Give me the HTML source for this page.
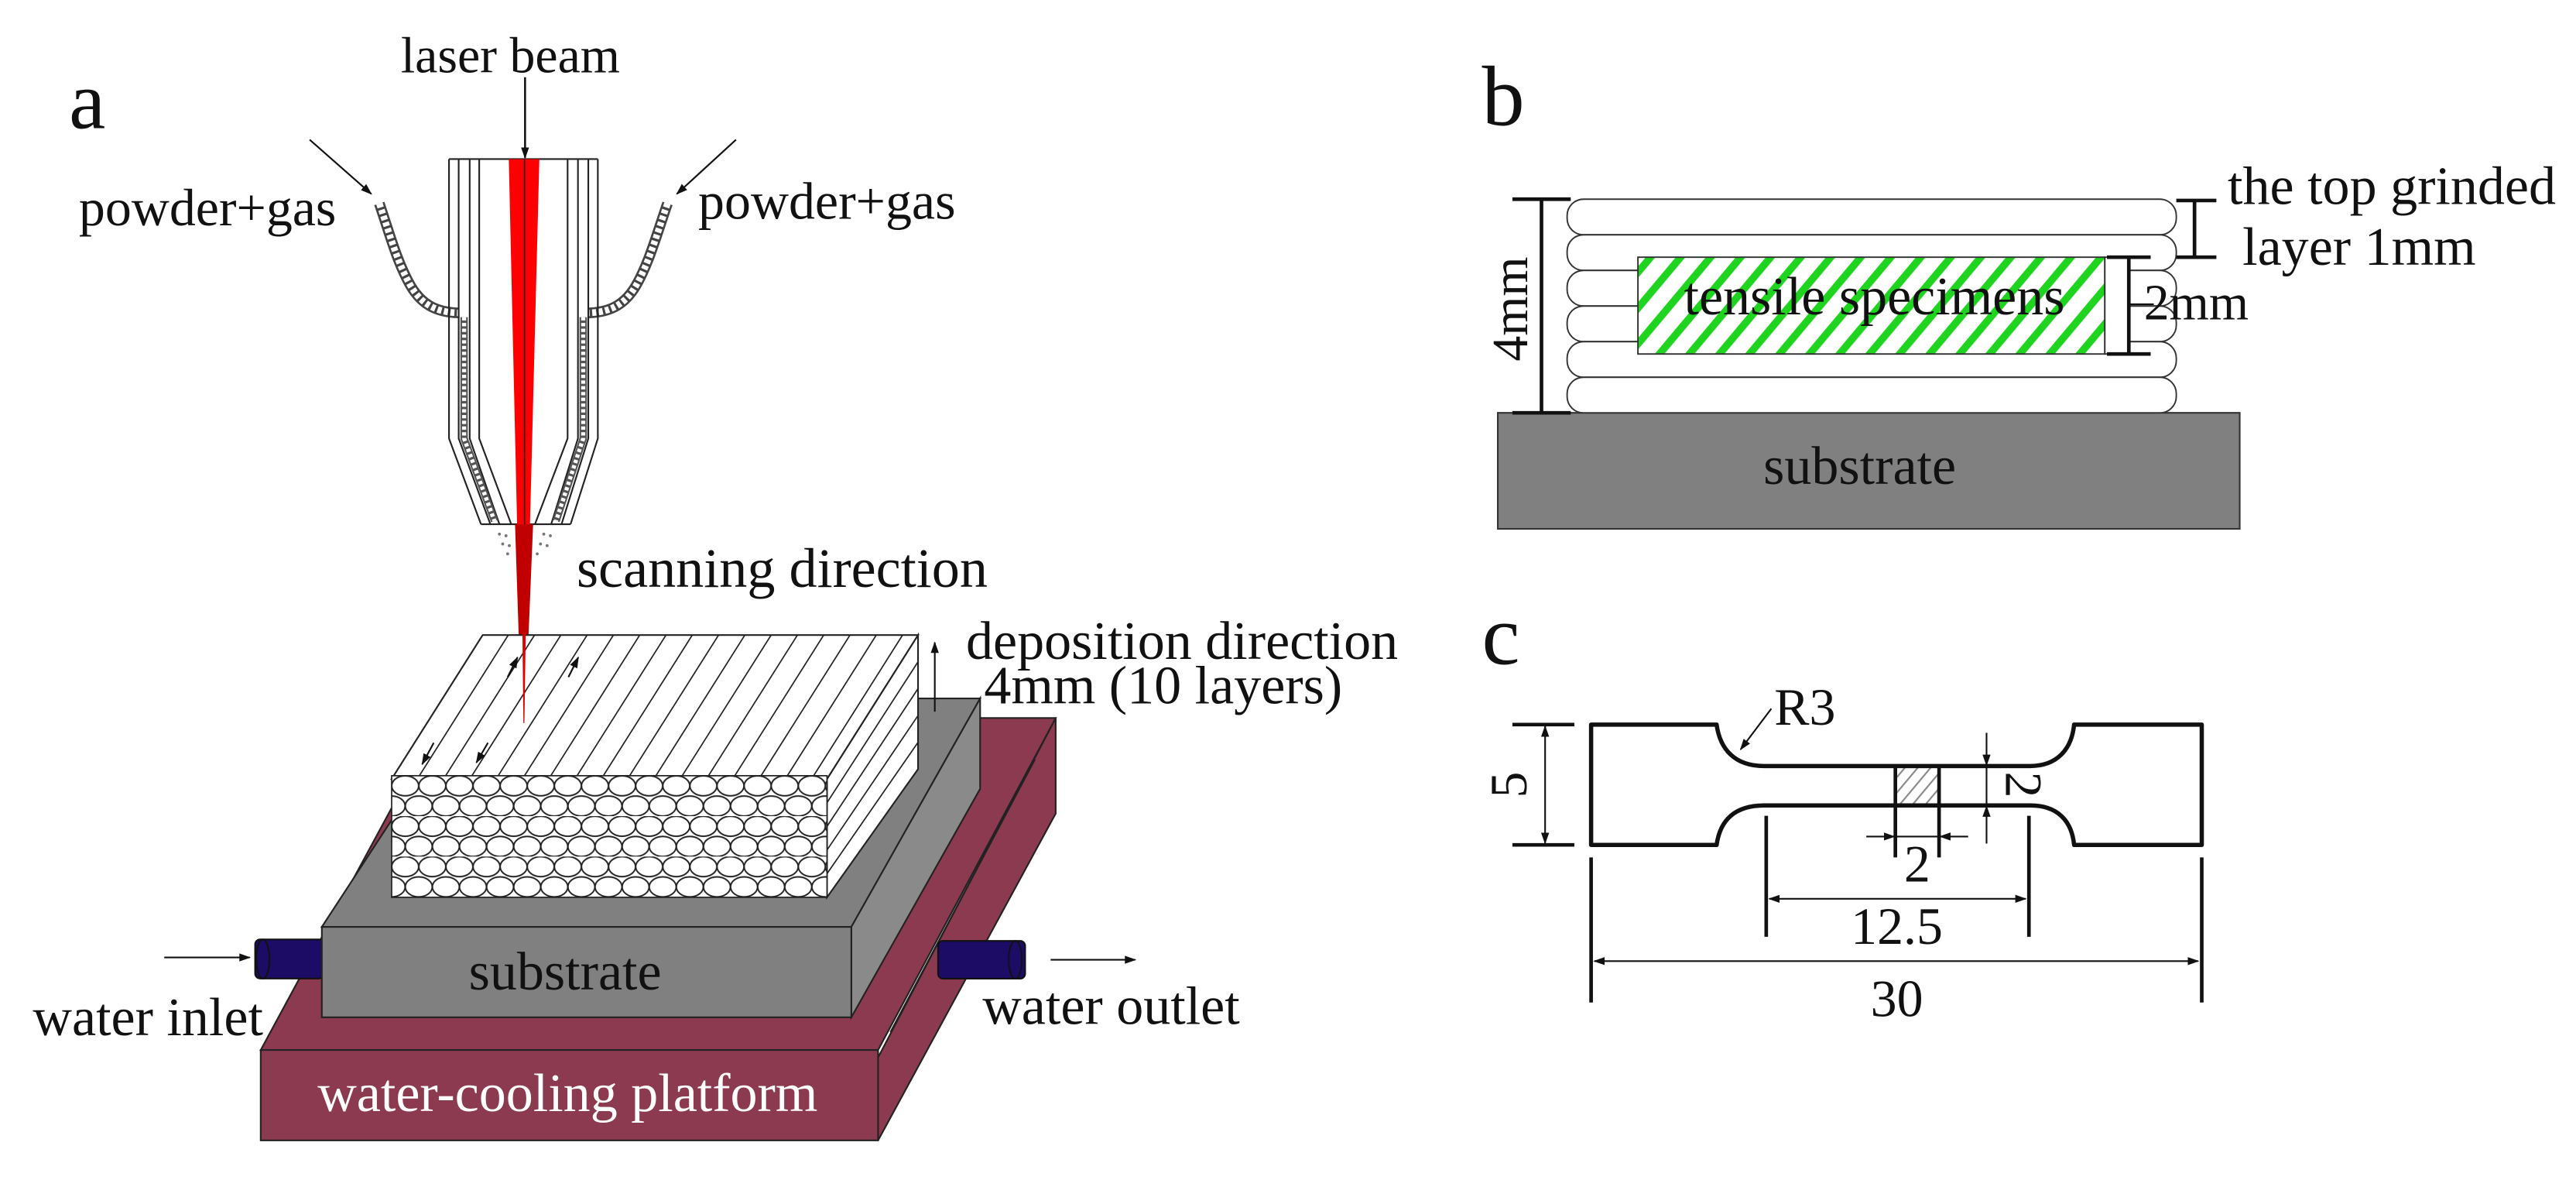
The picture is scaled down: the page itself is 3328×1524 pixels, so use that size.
<!DOCTYPE html>
<html><head><meta charset="utf-8"><style>
html,body{margin:0;padding:0;background:#fff;}
svg{display:block;}
text{font-family:"Liberation Serif",serif;fill:#111;}
</style></head><body>
<svg width="3328" height="1524" viewBox="0 0 1568 718" preserveAspectRatio="none" xmlns="http://www.w3.org/2000/svg">
<defs>
<marker id="ar" viewBox="0 0 10 10" refX="9" refY="5" markerWidth="7" markerHeight="7" orient="auto-start-reverse" markerUnits="userSpaceOnUse"><path d="M0,1.5 L10,5 L0,8.5 z" fill="#111"/></marker>
<pattern id="beads" patternUnits="userSpaceOnUse" x="238.4" y="472" width="33" height="24.6">
<rect width="33" height="24.6" fill="#fff"/>
<ellipse cx="8.25" cy="6.15" rx="8.2" ry="6.1" fill="#fff" stroke="#222" stroke-width="0.9"/>
<ellipse cx="24.75" cy="6.15" rx="8.2" ry="6.1" fill="#fff" stroke="#222" stroke-width="0.9"/>
<ellipse cx="0" cy="18.45" rx="8.2" ry="6.1" fill="#fff" stroke="#222" stroke-width="0.9"/>
<ellipse cx="16.5" cy="18.45" rx="8.2" ry="6.1" fill="#fff" stroke="#222" stroke-width="0.9"/>
<ellipse cx="33" cy="18.45" rx="8.2" ry="6.1" fill="#fff" stroke="#222" stroke-width="0.9"/>
</pattern>
<pattern id="green" patternUnits="userSpaceOnUse" width="14" height="14" patternTransform="rotate(40)">
<rect width="14" height="14" fill="#fff"/><rect x="0" y="0" width="4.5" height="14" fill="#1ed41e"/>
</pattern>
<pattern id="gh" patternUnits="userSpaceOnUse" width="6" height="6" patternTransform="rotate(40)">
<rect width="6" height="6" fill="#fff"/><rect x="0" y="0" width="1" height="6" fill="#888"/>
</pattern>
<clipPath id="topclip"><polygon points="293.8,386.4 558.8,386.4 503.4,474 238.4,474"/></clipPath>
</defs>

<!-- ===== Panel a ===== -->
<text x="42" y="78" font-size="50">a</text>
<text x="244" y="44" font-size="31">laser beam</text>
<line x1="319.6" y1="47" x2="319.6" y2="96" stroke="#111" stroke-width="1.2" marker-end="url(#ar)"/>
<text x="48" y="137" font-size="32">powder+gas</text>
<text x="425" y="133" font-size="32">powder+gas</text>
<line x1="188.5" y1="85" x2="226" y2="118" stroke="#111" stroke-width="1" marker-end="url(#ar)"/>
<line x1="448" y1="85" x2="412" y2="118" stroke="#111" stroke-width="1" marker-end="url(#ar)"/>

<!-- feeding tubes -->
<path d="M230.9,123.8 C238,145 242,160 250,174 C256,184 264,190 279.2,190.4" fill="none" stroke="#444" stroke-width="6.5"/>
<path d="M230.9,123.8 C238,145 242,160 250,174 C256,184 264,190 279.2,190.4" fill="none" stroke="#fff" stroke-width="4" stroke-dasharray="2.5 1.5"/>
<path d="M406.3,123.8 C399,145 395,160 387,174 C381,184 373,190 358.1,190.4" fill="none" stroke="#444" stroke-width="6.5"/>
<path d="M406.3,123.8 C399,145 395,160 387,174 C381,184 373,190 358.1,190.4" fill="none" stroke="#fff" stroke-width="4" stroke-dasharray="2.5 1.5"/>

<!-- nozzle -->
<g fill="none" stroke="#222" stroke-width="1">
<line x1="273.3" y1="96.8" x2="363.9" y2="96.8"/>
<polyline points="273.3,96.8 273.3,266.8 292.8,319"/>
<polyline points="279.2,96.8 279.2,266.8 298.5,319"/>
<polyline points="285.9,96.8 285.9,266.8 304,319"/>
<polyline points="291.7,96.8 291.7,266.8 311.2,319"/>
<polyline points="363.9,96.8 363.9,266.8 347.3,319"/>
<polyline points="358.1,96.8 358.1,266.8 341.8,319"/>
<polyline points="351.8,96.8 351.8,266.8 335.5,319"/>
<polyline points="345.5,96.8 345.5,266.8 325.6,319"/>
<line x1="292.8" y1="319" x2="347.3" y2="319"/>
</g>
<path d="M282.5,193 L282.5,266.8 L301,317" fill="none" stroke="#555" stroke-width="4.5"/>
<path d="M282.5,193 L282.5,266.8 L301,317" fill="none" stroke="#fff" stroke-width="2.5" stroke-dasharray="2 1.5"/>
<path d="M355,193 L355,266.8 L338.5,317" fill="none" stroke="#555" stroke-width="4.5"/>
<path d="M355,193 L355,266.8 L338.5,317" fill="none" stroke="#fff" stroke-width="2.5" stroke-dasharray="2 1.5"/>
<!-- powder dots -->
<g fill="#777"><circle cx="304" cy="325" r="0.9"/><circle cx="308" cy="326" r="0.9"/><circle cx="306" cy="331" r="0.9"/><circle cx="310" cy="332" r="0.9"/><circle cx="309" cy="337" r="0.9"/><circle cx="331" cy="325" r="0.9"/><circle cx="335" cy="326" r="0.9"/><circle cx="329" cy="331" r="0.9"/><circle cx="333" cy="332" r="0.9"/><circle cx="327" cy="337" r="0.9"/></g>
<!-- laser -->
<polygon points="309.7,96.8 328.3,96.8 319.5,440 317.5,440" fill="#ff0000"/>
<polygon points="313.5,319 324.5,319 319.5,440 317.5,440" fill="#c00000"/>
<line x1="319.3" y1="96.8" x2="319.3" y2="319" stroke="#222" stroke-width="0.8"/>

<text x="351" y="357" font-size="34">scanning direction</text>
<text x="588" y="401" font-size="33">deposition direction</text>
<text x="599" y="428" font-size="33">4mm (10 layers)</text>

<!-- platform -->
<polygon points="158.7,638.9 268,436.9 642.6,436.9 534.5,638.9" fill="#8c3a4f" stroke="#222" stroke-width="1"/>
<polygon points="534.5,643.4 642.6,436.9 642.6,495 534.5,693.9" fill="#8c3a4f" stroke="#222" stroke-width="1"/>
<rect x="158.7" y="638.9" width="375.8" height="55" fill="#8c3a4f" stroke="#222" stroke-width="1"/>
<line x1="542" y1="628" x2="630" y2="462" stroke="#222" stroke-width="1"/>
<text x="345.5" y="676" font-size="33" text-anchor="middle" style="fill:#fff">water-cooling platform</text>

<!-- pipes -->
<rect x="155.3" y="571.6" width="41.7" height="23.8" rx="3" fill="#1c0c66" stroke="#111" stroke-width="1"/>
<ellipse cx="160" cy="583.5" rx="4" ry="11.9" fill="#1c0c66" stroke="#111" stroke-width="1"/>
<rect x="571" y="572.5" width="53" height="23" rx="3" fill="#1c0c66" stroke="#111" stroke-width="1"/>
<ellipse cx="618" cy="584" rx="4" ry="11.5" fill="#1c0c66" stroke="#111" stroke-width="1"/>
<line x1="100" y1="582.6" x2="152" y2="582.6" stroke="#111" stroke-width="1" marker-end="url(#ar)"/>
<line x1="639.5" y1="584" x2="691" y2="584" stroke="#111" stroke-width="1" marker-end="url(#ar)"/>
<text x="20" y="630" font-size="33">water inlet</text>
<text x="598" y="623" font-size="33">water outlet</text>

<!-- substrate -->
<polygon points="195.9,564 286.7,425 596.6,425 518.2,564" fill="#808080" stroke="#222" stroke-width="1"/>
<polygon points="518.2,564 596.6,425 596.6,480 518.2,619" fill="#8a8a8a" stroke="#222" stroke-width="1"/>
<rect x="195.9" y="564" width="322.3" height="55" fill="#808080" stroke="#222" stroke-width="1"/>
<text x="344" y="602" font-size="33" text-anchor="middle">substrate</text>

<!-- deposit -->
<polygon points="558.8,386.4 558.8,468 503.4,546 503.4,474" fill="#fff" stroke="#222" stroke-width="1"/>
<g stroke="#222" stroke-width="0.8">
<line x1="558.8" y1="402.7" x2="503.4" y2="488.4"/>
<line x1="558.8" y1="419" x2="503.4" y2="502.8"/>
<line x1="558.8" y1="435.4" x2="503.4" y2="517.2"/>
<line x1="558.8" y1="451.7" x2="503.4" y2="531.6"/>
</g>
<polygon points="293.8,386.4 558.8,386.4 503.4,474 238.4,474" fill="#fff" stroke="#222" stroke-width="1"/>
<g clip-path="url(#topclip)" stroke="#222" stroke-width="0.8">
<line x1="254" y1="474" x2="309.4" y2="386.4"/><line x1="270" y1="474" x2="325.4" y2="386.4"/>
<line x1="286" y1="474" x2="341.4" y2="386.4"/><line x1="302" y1="474" x2="357.4" y2="386.4"/>
<line x1="318" y1="474" x2="373.4" y2="386.4"/><line x1="334" y1="474" x2="389.4" y2="386.4"/>
<line x1="350" y1="474" x2="405.4" y2="386.4"/><line x1="366" y1="474" x2="421.4" y2="386.4"/>
<line x1="382" y1="474" x2="437.4" y2="386.4"/><line x1="398" y1="474" x2="453.4" y2="386.4"/>
<line x1="414" y1="474" x2="469.4" y2="386.4"/><line x1="430" y1="474" x2="485.4" y2="386.4"/>
<line x1="446" y1="474" x2="501.4" y2="386.4"/><line x1="462" y1="474" x2="517.4" y2="386.4"/>
<line x1="478" y1="474" x2="533.4" y2="386.4"/><line x1="494" y1="474" x2="549.4" y2="386.4"/>
</g>
<g stroke="#111" stroke-width="1">
<line x1="264" y1="452" x2="257" y2="465" marker-end="url(#ar)"/>
<line x1="297" y1="452" x2="290" y2="464" marker-end="url(#ar)"/>
<line x1="309" y1="412" x2="315" y2="400" marker-end="url(#ar)"/>
<line x1="346" y1="412" x2="352" y2="400" marker-end="url(#ar)"/>
</g>
<line x1="569" y1="433" x2="569" y2="391" stroke="#111" stroke-width="1" marker-end="url(#ar)"/>
<rect x="238.4" y="472" width="265" height="74" fill="url(#beads)" stroke="#222" stroke-width="0.8"/>
<!-- laser tip over deposit -->
<polygon points="318,386 320,386 319.2,440 318.6,440" fill="#e00000"/>

<!-- ===== Panel b ===== -->
<text x="902" y="76" font-size="52">b</text>
<rect x="911.7" y="251.2" width="451.6" height="70.6" fill="#808080" stroke="#333" stroke-width="1"/>
<text x="1132" y="294.5" font-size="33" text-anchor="middle">substrate</text>
<g fill="#fff" stroke="#333" stroke-width="0.9">
<rect x="953.9" y="121.2" width="370.8" height="21.67" rx="10"/>
<rect x="953.9" y="142.87" width="370.8" height="21.67" rx="10"/>
<rect x="953.9" y="164.54" width="370.8" height="21.67" rx="10"/>
<rect x="953.9" y="186.21" width="370.8" height="21.67" rx="10"/>
<rect x="953.9" y="207.88" width="370.8" height="21.67" rx="10"/>
<rect x="953.9" y="229.55" width="370.8" height="21.67" rx="10"/>
</g>
<rect x="997" y="156.5" width="284.2" height="58.9" fill="url(#green)" stroke="#333" stroke-width="0.9"/>
<rect x="1281.2" y="156.5" width="14.6" height="58.9" fill="#fff" stroke="#333" stroke-width="0.9"/>
<text x="1025" y="191.4" font-size="33">tensile specimens</text>
<g stroke="#111" stroke-width="2.2">
<line x1="938.3" y1="121.2" x2="938.3" y2="251.2"/><line x1="920.6" y1="121.2" x2="956.1" y2="121.2"/><line x1="920.6" y1="251.2" x2="956.1" y2="251.2"/>
<line x1="1295.8" y1="156.5" x2="1295.8" y2="215.4"/><line x1="1282.5" y1="156.5" x2="1309.1" y2="156.5"/><line x1="1282.5" y1="215.4" x2="1309.1" y2="215.4"/>
<line x1="1335.8" y1="122" x2="1335.8" y2="156.5"/><line x1="1324.7" y1="122" x2="1349.1" y2="122"/><line x1="1324.7" y1="156.5" x2="1349.1" y2="156.5"/>
</g>
<line x1="1295.8" y1="185.1" x2="1311" y2="185.1" stroke="#111" stroke-width="1"/>
<text transform="translate(929.5,188) rotate(-90)" font-size="31" text-anchor="middle">4mm</text>
<text x="1305" y="194.4" font-size="31">2mm</text>
<text x="1356" y="124.1" font-size="33">the top grinded</text>
<text x="1365" y="161.1" font-size="33">layer 1mm</text>

<!-- ===== Panel c ===== -->
<text x="902" y="404" font-size="52">c</text>
<rect x="1153.7" y="466.1" width="26.6" height="24" fill="url(#gh)"/>
<path d="M968.5,440.9 L1044.9,440.9 C1047,456 1056,466.1 1073.8,466.1 L1235.9,466.1 C1252,466.1 1261,456 1262.5,440.9 L1340.2,440.9 L1340.2,514.1 L1262.5,514.1 C1261,499 1252,490.1 1235.9,490.1 L1073.8,490.1 C1056,490.1 1047,499 1044.9,514.1 L968.5,514.1 Z" fill="none" stroke="#111" stroke-width="2.6" stroke-linejoin="round"/>
<g stroke="#111" stroke-width="2.2">
<line x1="1153.7" y1="466.1" x2="1153.7" y2="521.7"/><line x1="1180.3" y1="466.1" x2="1180.3" y2="521.7"/>
<line x1="1075.1" y1="496.4" x2="1075.1" y2="570"/><line x1="1235" y1="496.4" x2="1235" y2="570"/>
<line x1="968.5" y1="521.7" x2="968.5" y2="610"/><line x1="1340.2" y1="521.7" x2="1340.2" y2="610"/>
<line x1="920.6" y1="440.9" x2="958.3" y2="440.9"/><line x1="920.6" y1="514.1" x2="958.3" y2="514.1"/>
</g>
<g stroke="#111" stroke-width="1">
<line x1="940.5" y1="447" x2="940.5" y2="442" marker-end="url(#ar)"/>
<line x1="940.5" y1="442" x2="940.5" y2="513" marker-end="url(#ar)"/>
<line x1="1077" y1="546.9" x2="1233" y2="546.9" marker-start="url(#ar)" marker-end="url(#ar)"/>
<line x1="970.5" y1="584.8" x2="1338" y2="584.8" marker-start="url(#ar)" marker-end="url(#ar)"/>
<line x1="1136" y1="509" x2="1153" y2="509" marker-end="url(#ar)"/>
<line x1="1198" y1="509" x2="1181" y2="509" marker-end="url(#ar)"/>
<line x1="1153.7" y1="509" x2="1180.3" y2="509"/>
<line x1="1209.2" y1="445.9" x2="1209.2" y2="465.5" marker-end="url(#ar)"/>
<line x1="1209.2" y1="513.3" x2="1209.2" y2="490.7" marker-end="url(#ar)"/>
<line x1="1209.2" y1="466" x2="1209.2" y2="490"/>
<line x1="1078.2" y1="431.2" x2="1059.5" y2="456" marker-end="url(#ar)"/>
</g>
<text x="1080" y="441" font-size="32">R3</text>
<text transform="translate(929,477.5) rotate(-90)" font-size="32" text-anchor="middle">5</text>
<text transform="translate(1221,477.5) rotate(90)" font-size="32" text-anchor="middle">2</text>
<text x="1167" y="536.4" font-size="32" text-anchor="middle">2</text>
<text x="1154.6" y="574.3" font-size="32" text-anchor="middle">12.5</text>
<text x="1154.6" y="618.4" font-size="32" text-anchor="middle">30</text>
</svg>
</body></html>
